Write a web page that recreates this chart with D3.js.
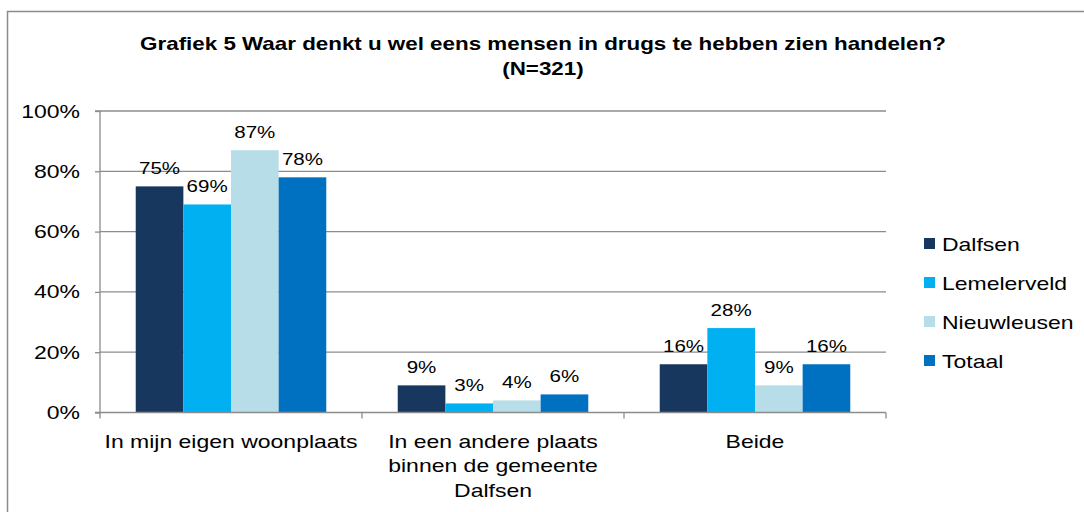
<!DOCTYPE html>
<html>
<head>
<meta charset="utf-8">
<script src="https://cdn.jsdelivr.net/npm/d3@7"></script>
<style>
  html, body { margin: 0; padding: 0; background: #fff; }
  svg { display: block; font-family: "Liberation Sans", Arial, sans-serif; }
</style>
</head>
<body>
<svg id="chart" width="1084" height="512"></svg>
<script>
const categories = [
  ["In mijn eigen woonplaats"],
  ["In een andere plaats", "binnen de gemeente", "Dalfsen"],
  ["Beide"]
];
const seriesNames = ["Dalfsen", "Lemelerveld", "Nieuwleusen", "Totaal"];
const dalfsen = [75, 9, 16];
const lemelerveld = [69, 3, 28];
const nieuwleusen = [87, 4, 9];
const totaal = [78, 6, 16];
const seriesValues = [dalfsen, lemelerveld, nieuwleusen, totaal];
const colors = ["#17375E", "#00B0F0", "#B7DEE8", "#0070C0"];
const yTicks = [0, 20, 40, 60, 80, 100];
const titleLines = ["Grafiek 5 Waar denkt u wel eens mensen in drugs te hebben zien handelen?", "(N=321)"];

(function() {
const svg = d3.select("#chart");
const pL = 100, pR = 886, pT = 111, pB = 412.5;
const SX = 1.21;
function stretch(sel) {
  sel.each(function() {
    const ax = parseFloat(this.getAttribute("x")) || 0;
    this.setAttribute("transform", `translate(${ax},0) scale(${SX},1) translate(${-ax},0)`);
  });
}

// outer frame
svg.append("rect").attr("x", 7.5).attr("y", 11.5).attr("width", 1090).attr("height", 520)
  .attr("fill", "none").attr("stroke", "#8c8c8c").attr("stroke-width", 1.5);

// title
const title = svg.append("text").attr("x", 543).attr("text-anchor", "middle")
  .attr("font-weight", "bold").attr("font-size", 18.5).attr("fill", "#000");
titleLines.forEach((t, i) => title.append("tspan").attr("x", 543).attr("y", 50 + i * 25).text(t));
stretch(title);

const catIdx = categories.map((c, i) => i);
const x0 = d3.scaleBand().domain(catIdx).range([pL, pR]).padding(0);
const bw = x0.bandwidth();
const barW = bw / 5.5;
const x1 = d3.scaleBand().domain(seriesNames).range([barW * 0.75, bw - barW * 0.75]).padding(0);
const y = d3.scaleLinear().domain([0, 100]).range([pB, pT]);

// gridlines
svg.append("g").selectAll("line").data(yTicks.filter(d => d > 0)).join("line")
  .attr("x1", pL).attr("x2", pR).attr("y1", d => y(d)).attr("y2", d => y(d))
  .attr("stroke", "#8c8c8c").attr("stroke-width", 1.3);

// y axis
const yAxis = svg.append("g").attr("transform", `translate(${pL},0)`)
  .call(d3.axisLeft(y).tickValues(yTicks).tickFormat(d => d + "%").tickSize(5).tickPadding(15));
yAxis.select(".domain").attr("stroke", "#8c8c8c").attr("stroke-width", 1.3).attr("d", `M-5,${pT}H0V${pB}H-5`);
yAxis.selectAll(".tick line").attr("stroke", "#8c8c8c").attr("stroke-width", 1.3);
yAxis.selectAll(".tick text").attr("font-size", 19).attr("fill", "#000")
  .attr("font-family", "Liberation Sans, Arial, sans-serif");
stretch(yAxis.selectAll(".tick text"));

// bars
const groups = svg.append("g").selectAll("g").data(catIdx).join("g")
  .attr("transform", d => `translate(${x0(d)},0)`);
groups.selectAll("rect").data(ci => seriesNames.map((s, si) => ({s, si, v: seriesValues[si][ci]}))).join("rect")
  .attr("x", d => x1(d.s)).attr("width", x1.bandwidth())
  .attr("y", d => y(d.v)).attr("height", d => y(0) - y(d.v))
  .attr("fill", d => colors[d.si]);
const lbls = groups.selectAll("text.lbl").data(ci => seriesNames.map((s, si) => ({s, si, v: seriesValues[si][ci]}))).join("text")
  .attr("class", "lbl")
  .attr("x", d => x1(d.s) + x1.bandwidth() / 2).attr("y", d => y(d.v) - 12.5)
  .attr("text-anchor", "middle").attr("font-size", 17).attr("fill", "#000")
  .text(d => d.v + "%");
stretch(lbls);

// x axis
const xAxisG = svg.append("g");
xAxisG.append("line").attr("x1", pL).attr("x2", pR).attr("y1", pB).attr("y2", pB)
  .attr("stroke", "#8c8c8c").attr("stroke-width", 1.3);
const bounds = catIdx.map(i => x0(i)).concat([pR]);
xAxisG.selectAll("line.tk").data(bounds).join("line").attr("class", "tk")
  .attr("x1", d => d).attr("x2", d => d).attr("y1", pB).attr("y2", pB + 6)
  .attr("stroke", "#8c8c8c").attr("stroke-width", 1.3);
const xl = xAxisG.selectAll("text.xl").data(catIdx).join("text").attr("class", "xl")
  .attr("x", ci => x0(ci) + bw / 2)
  .attr("text-anchor", "middle").attr("font-size", 19).attr("fill", "#000");
xl.each(function(ci) {
  const t = d3.select(this);
  categories[ci].forEach((line, li) => {
    t.append("tspan").attr("x", x0(ci) + bw / 2).attr("y", 448 + li * 24.5).text(line);
  });
});
stretch(xl);

// legend
const lg = svg.append("g").selectAll("g").data(seriesNames).join("g")
  .attr("transform", (d, i) => `translate(924,${238 + i * 39})`);
lg.append("rect").attr("width", 11).attr("height", 11).attr("fill", (d, i) => colors[i]);
const lt = lg.append("text").attr("x", 18).attr("y", 12.5).attr("font-size", 19).attr("fill", "#000").text(d => d);
stretch(lt);
})();
</script>
</body>
</html>
